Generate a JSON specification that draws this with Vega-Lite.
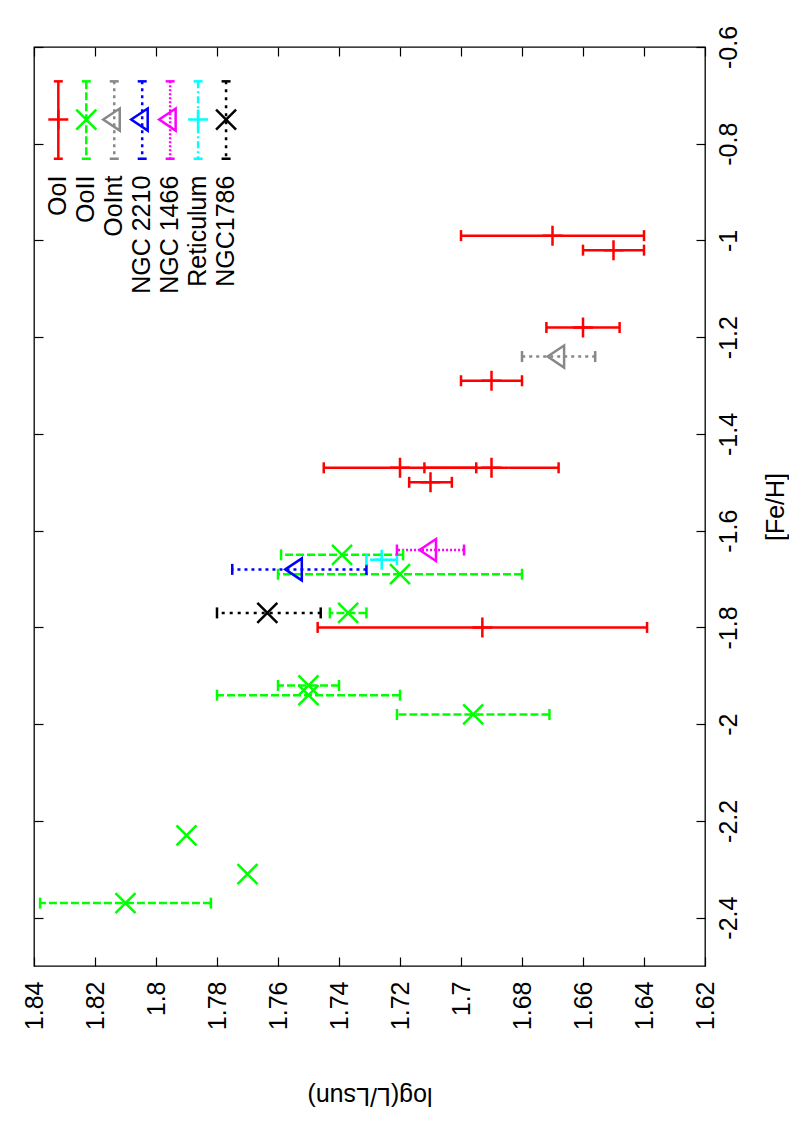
{
  "$schema": "https://vega.github.io/schema/vega-lite/v6.json",
  "width": 671,
  "height": 919,
  "autosize": {"type": "none"},
  "padding": {"left": 34, "top": 47, "right": 84, "bottom": 161},
  "background": "white",
  "config": {
    "view": {"stroke": "black", "strokeWidth": 1.3},
    "font": "Liberation Sans",
    "axis": {
      "grid": false, "domain": false, "tickColor": "black", "tickWidth": 1.2, "tickSize": -9,
      "labelColor": "black", "titleColor": "black", "labelFontSize": 25, "titleFontSize": 25,
      "titleFontWeight": "normal", "labelOverlap": false, "labelFlush": false, "labelFont": "Liberation Sans", "titleFont": "Liberation Sans"
    }
  },
  "datasets": {
    "pts": [
      {"series": "OoI", "logL": 1.670, "lo": 1.640, "hi": 1.700, "feh": -0.99},
      {"series": "OoI", "logL": 1.650, "lo": 1.640, "hi": 1.660, "feh": -1.02},
      {"series": "OoI", "logL": 1.660, "lo": 1.648, "hi": 1.672, "feh": -1.18},
      {"series": "OoI", "logL": 1.690, "lo": 1.680, "hi": 1.700, "feh": -1.29},
      {"series": "OoI", "logL": 1.720, "lo": 1.695, "hi": 1.745, "feh": -1.47},
      {"series": "OoI", "logL": 1.690, "lo": 1.668, "hi": 1.712, "feh": -1.47},
      {"series": "OoI", "logL": 1.710, "lo": 1.703, "hi": 1.717, "feh": -1.50},
      {"series": "OoI", "logL": 1.693, "lo": 1.639, "hi": 1.747, "feh": -1.80},
      {"series": "OoII", "logL": 1.739, "lo": 1.719, "hi": 1.759, "feh": -1.65},
      {"series": "OoII", "logL": 1.720, "lo": 1.680, "hi": 1.760, "feh": -1.69},
      {"series": "OoII", "logL": 1.737, "lo": 1.731, "hi": 1.743, "feh": -1.77},
      {"series": "OoII", "logL": 1.750, "lo": 1.740, "hi": 1.760, "feh": -1.92},
      {"series": "OoII", "logL": 1.750, "lo": 1.720, "hi": 1.780, "feh": -1.94},
      {"series": "OoII", "logL": 1.696, "lo": 1.671, "hi": 1.721, "feh": -1.98},
      {"series": "OoII", "logL": 1.790, "lo": null, "hi": null, "feh": -2.23},
      {"series": "OoII", "logL": 1.770, "lo": null, "hi": null, "feh": -2.31},
      {"series": "OoII", "logL": 1.810, "lo": 1.782, "hi": 1.838, "feh": -2.37},
      {"series": "OoInt", "logL": 1.668, "lo": 1.656, "hi": 1.680, "feh": -1.24},
      {"series": "NGC 2210", "logL": 1.754, "lo": 1.731, "hi": 1.775, "feh": -1.68},
      {"series": "NGC 1466", "logL": 1.710, "lo": 1.699, "hi": 1.721, "feh": -1.64},
      {"series": "Reticulum", "logL": 1.726, "lo": 1.721, "hi": 1.731, "feh": -1.66},
      {"series": "NGC1786", "logL": 1.7635, "lo": 1.746, "hi": 1.780, "feh": -1.77}
    ],
    "legend": [
      {"series": "OoI"}, {"series": "OoII"}, {"series": "OoInt"}, {"series": "NGC 2210"},
      {"series": "NGC 1466"}, {"series": "Reticulum"}, {"series": "NGC1786"}
    ]
  },
  "layer": [
    {
      "data": {"name": "pts"},
      "transform": [{"filter": "isValid(datum.lo)"}],
      "mark": {"type": "rule", "strokeWidth": 2.5},
      "encoding": {
        "x": {"field": "lo", "type": "quantitative",
              "scale": {"domain": [1.62, 1.84], "reverse": true, "nice": false, "zero": false},
              "axis": {"orient": "bottom", "values": [1.62, 1.64, 1.66, 1.68, 1.7, 1.72, 1.74, 1.76, 1.78, 1.8, 1.82, 1.84],
                       "labelExpr": "'' + datum.value", "labelAngle": 270, "labelAlign": "right", "labelBaseline": "middle",
                       "labelPadding": 24, "title": "log(L/Lsun)", "titleAngle": 180, "titleBaseline": "bottom", "titleAlign": "center", "titleY": 116}},
        "x2": {"field": "hi"},
        "y": {"field": "feh", "type": "quantitative",
              "scale": {"domain": [-2.5, -0.6], "nice": false, "zero": false},
              "axis": {"orient": "right", "values": [-2.4, -2.2, -2, -1.8, -1.6, -1.4, -1.2, -1, -0.8, -0.6],
                       "labelExpr": "'' + datum.value", "labelAngle": 270, "labelAlign": "center", "labelBaseline": "top",
                       "labelPadding": 20, "title": "[Fe/H]", "titleAngle": 270, "titleBaseline": "top", "titleAlign": "center", "titleX": 58}},
        "color": {"field": "series", "type": "nominal", "legend": null,
                  "scale": {"domain": ["OoI", "OoII", "OoInt", "NGC 2210", "NGC 1466", "Reticulum", "NGC1786"],
                            "range": ["#ff0000", "#00ff00", "#888888", "#0000ff", "#ff00ff", "#00ffff", "#000000"]}},
        "strokeDash": {"field": "series", "type": "nominal", "legend": null,
                       "scale": {"domain": ["OoI", "OoII", "OoInt", "NGC 2210", "NGC 1466", "Reticulum", "NGC1786"],
                                 "range": [[1, 0], [8, 3], [3, 4], [3, 4], [2, 2], [7, 3, 2, 3], [3, 5]]}}
      }
    },
    {
      "data": {"name": "pts"},
      "transform": [{"filter": "isValid(datum.lo)"}],
      "mark": {"type": "tick", "orient": "vertical", "size": 11, "thickness": 2.5, "opacity": 1},
      "encoding": {
        "x": {"field": "lo", "type": "quantitative",
              "scale": {"domain": [1.62, 1.84], "reverse": true, "nice": false, "zero": false},
              "axis": {"orient": "top", "values": [1.62, 1.64, 1.66, 1.68, 1.7, 1.72, 1.74, 1.76, 1.78, 1.8, 1.82, 1.84], "labels": false, "title": null}},
        "y": {"field": "feh", "type": "quantitative",
              "axis": {"orient": "left", "values": [-2.4, -2.2, -2, -1.8, -1.6, -1.4, -1.2, -1, -0.8, -0.6], "labels": false, "title": null}},
        "color": {"field": "series", "type": "nominal", "legend": null}
      }
    },
    {
      "data": {"name": "pts"},
      "transform": [{"filter": "isValid(datum.hi)"}],
      "mark": {"type": "tick", "orient": "vertical", "size": 11, "thickness": 2.5, "opacity": 1},
      "encoding": {
        "x": {"field": "hi", "type": "quantitative",
              "scale": {"domain": [1.62, 1.84], "reverse": true, "nice": false, "zero": false}, "axis": null},
        "y": {"field": "feh", "type": "quantitative", "axis": null},
        "color": {"field": "series", "type": "nominal", "legend": null}
      }
    },
    {
      "data": {"name": "pts"},
      "mark": {"type": "point", "filled": false, "size": 400, "strokeWidth": 2.5, "opacity": 1},
      "encoding": {
        "x": {"field": "logL", "type": "quantitative",
              "scale": {"domain": [1.62, 1.84], "reverse": true, "nice": false, "zero": false}, "axis": null},
        "y": {"field": "feh", "type": "quantitative", "axis": null},
        "color": {"field": "series", "type": "nominal", "legend": null},
        "shape": {"field": "series", "type": "nominal", "legend": null,
                  "scale": {"domain": ["OoI", "OoII", "OoInt", "NGC 2210", "NGC 1466", "Reticulum", "NGC1786"],
                            "range": ["M-1,0L1,0M0,-1L0,1", "M-1,-1L1,1M-1,1L1,-1", "M-1.1,0L0.55,-1.1L0.55,1.1Z", "M-1.1,0L0.55,-1.1L0.55,1.1Z", "M-1.1,0L0.55,-1.1L0.55,1.1Z", "M-1,0L1,0M0,-1L0,1", "M-1,-1L1,1M-1,1L1,-1"]}}
      }
    },
    {
      "data": {"name": "legend"},
      "encoding": {
        "x": {"field": "series", "type": "nominal",
              "scale": {"type": "point",
                        "domain": ["OoI", "OoII", "OoInt", "NGC 2210", "NGC 1466", "Reticulum", "NGC1786",
                                   "_8", "_9", "_10", "_11", "_12", "_13", "_14", "_15", "_16", "_17", "_18", "_19", "_20", "_21", "_22", "_23"],
                        "padding": 1, "align": 0.435},
              "axis": null},
        "color": {"field": "series", "type": "nominal", "legend": null}
      },
      "layer": [
        {
          "mark": {"type": "rule", "strokeWidth": 2.5},
          "encoding": {
            "y": {"datum": -0.671, "type": "quantitative", "axis": null},
            "y2": {"datum": -0.831},
            "strokeDash": {"field": "series", "type": "nominal", "legend": null}
          }
        },
        {
          "mark": {"type": "tick", "orient": "horizontal", "size": 9, "thickness": 2.5, "opacity": 1},
          "encoding": {"y": {"datum": -0.671, "type": "quantitative", "axis": null}}
        },
        {
          "mark": {"type": "tick", "orient": "horizontal", "size": 9, "thickness": 2.5, "opacity": 1},
          "encoding": {"y": {"datum": -0.831, "type": "quantitative", "axis": null}}
        },
        {
          "mark": {"type": "point", "filled": false, "size": 400, "strokeWidth": 2.5, "opacity": 1},
          "encoding": {
            "y": {"datum": -0.75, "type": "quantitative", "axis": null},
            "shape": {"field": "series", "type": "nominal", "legend": null}
          }
        },
        {
          "mark": {"type": "text", "angle": 270, "align": "right", "baseline": "middle", "fontSize": 25, "font": "Liberation Sans"},
          "encoding": {
            "y": {"datum": -0.866, "type": "quantitative", "axis": null},
            "text": {"field": "series"},
            "color": {"value": "black"}
          }
        }
      ]
    }
  ],
  "resolve": {"scale": {"x": "independent"}, "axis": {"x": "independent", "y": "independent"}}
}
